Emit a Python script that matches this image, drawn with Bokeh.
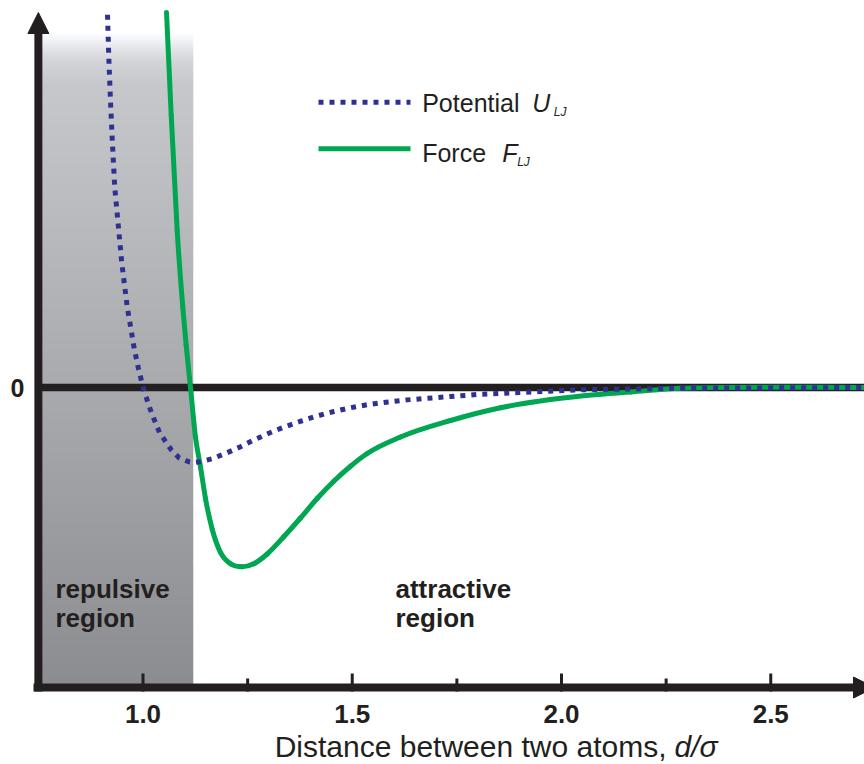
import numpy as np
from bokeh.plotting import figure
from bokeh.models import Range1d, Label, Arrow, NormalHead
from bokeh.core.properties import value
from bokeh.embed import file_html
from bokeh.resources import INLINE

# Lennard-Jones pair interaction: distance in units of sigma,
# potential and force in units of epsilon (and epsilon/sigma)
d_potential = [0.9152, 0.9183, 0.9223, 0.9271, 0.9326, 0.9398, 0.9493, 0.9622,
               0.9790, 0.9900, 1.0029, 1.0196, 1.0394, 1.0674, 1.0865, 1.1094,
               1.1220, 1.1374, 1.1654, 1.2012, 1.2330, 1.2648, 1.3006, 1.3364,
               1.3763, 1.4162, 1.4559, 1.4958, 1.5357, 1.5754, 1.6313, 1.7348,
               1.8065, 1.8860, 1.9658, 2.0454, 2.2840, 2.7240]
u_potential = [4.97, 4.40, 3.82, 3.24, 2.66, 2.23, 1.66, 1.08,
               0.52, 0.23, -0.05, -0.33, -0.60, -0.83, -0.94, -0.99,
               -1.00, -0.99, -0.95, -0.87, -0.79, -0.70, -0.61, -0.53,
               -0.45, -0.38, -0.32, -0.27, -0.23, -0.20, -0.165, -0.12,
               -0.09, -0.07, -0.05, -0.03, -0.01, 0.00]

d_force = [1.0562, 1.0674, 1.0817, 1.0951, 1.1032, 1.1135, 1.1254, 1.1374,
           1.1493, 1.1654, 1.1852, 1.2091, 1.2370, 1.2648, 1.2968, 1.3364,
           1.3763, 1.4162, 1.4559, 1.4958, 1.5357, 1.6153, 1.7348, 1.8543,
           1.9737, 2.0932, 2.1649, 2.2843, 2.3800, 2.7240]
f_force = [5.00, 3.63, 2.09, 1.07, 0.56, 0.00, -0.66, -1.06,
           -1.48, -1.89, -2.20, -2.35, -2.39, -2.35, -2.22, -1.99,
           -1.74, -1.48, -1.25, -1.05, -0.88, -0.66, -0.44, -0.27,
           -0.16, -0.09, -0.06, -0.01, 0.00, 0.00]

x_ticks = [1.0, 1.5, 2.0, 2.5]
x_tick_labels = ["1.0", "1.5", "2.0", "2.5"]
x_minor_ticks = [1.25, 1.75, 2.25]
axis_origin_d = 0.75        # where the distance axis starts
repulsive_limit = 1.12      # force changes sign here
y_top = 5.0                 # top of the drawn energy axis
y_bottom = -4.0             # level of the distance axis

# drawing scale (pixels per unit of d/sigma and per unit of epsilon)
W, H = 864, 764
PX_PER_D = 418.5
PX_PER_E = 75.0
ZERO_PX = 387.0
X_START = 1.0 - 142.5 / PX_PER_D
X_END = X_START + W / PX_PER_D
Y_END = ZERO_PX / PX_PER_E
Y_START = Y_END - H / PX_PER_E


def sx(px):
    return X_START + px / PX_PER_D


def sy(py):
    return Y_END - py / PX_PER_E


def smooth_segments(xs, ys):
    """Cubic Hermite pieces in x, as Bezier curves through every given point."""
    x = np.asarray(xs, dtype=float)
    y = np.asarray(ys, dtype=float)
    h = np.diff(x)
    delta = np.diff(y) / h
    slope = np.empty_like(x)
    slope[0], slope[-1] = delta[0], delta[-1]
    slope[1:-1] = (delta[:-1] * h[1:] + delta[1:] * h[:-1]) / (h[:-1] + h[1:])
    return dict(x0=x[:-1], y0=y[:-1], x1=x[1:], y1=y[1:],
                cx0=x[:-1] + h / 3, cy0=y[:-1] + slope[:-1] * h / 3,
                cx1=x[1:] - h / 3, cy1=y[1:] - slope[1:] * h / 3)


BLACK = "#231f20"
BLUE = "#2e3192"
GREEN = "#00a651"
FONT = "Liberation Sans"

p = figure(width=W, height=H, x_range=Range1d(X_START, X_END), y_range=Range1d(Y_START, Y_END),
           output_backend="svg", toolbar_location=None, title=None,
           x_axis_location=None, y_axis_location=None,
           min_border_left=0, min_border_right=0, min_border_top=0, min_border_bottom=0)
p.outline_line_color = None
p.grid.visible = False
p.background_fill_color = "white"
p.border_fill_color = "white"

# shaded repulsive region, fading to white at the top
shade_top = sy(35)
edges = np.linspace(shade_top, y_bottom, 241)
mid_px = (Y_END - (edges[:-1] + edges[1:]) / 2) * PX_PER_E
gray = np.interp(mid_px, [35, 48, 62, 85, 687], [253, 232, 213, 201, 142])
band_colors = ["#%02x%02x%02x" % (int(g - 2), int(g - 1), int(min(255, g + 2))) for g in gray]
p.quad(left=axis_origin_d, right=repulsive_limit, top=edges[:-1] + 0.012, bottom=edges[1:],
       fill_color=band_colors, line_color=None)

# zero line
p.segment(x0=[axis_origin_d], y0=[0], x1=[X_END], y1=[0], line_color=BLACK, line_width=7.5)

# curves
p.bezier(**smooth_segments(d_force, f_force), line_color=GREEN, line_width=5, line_cap="round")
p.line(d_potential, u_potential, line_color=BLUE, line_width=5, line_dash="5 6", line_cap="butt")

# axes with arrow heads
axis_base = sy(691)
p.add_layout(Arrow(end=NormalHead(size=21, fill_color=BLACK, line_color=BLACK),
                   x_start=axis_origin_d, y_start=axis_base, x_end=axis_origin_d, y_end=y_top,
                   line_color=BLACK, line_width=8))
p.add_layout(Arrow(end=NormalHead(size=21, fill_color=BLACK, line_color=BLACK),
                   x_start=sx(33), y_start=y_bottom, x_end=sx(874), y_end=y_bottom,
                   line_color=BLACK, line_width=8))

# ticks pointing up from the distance axis, and their labels
p.segment(x0=x_ticks, y0=[axis_base] * len(x_ticks), x1=x_ticks, y1=[sy(673)] * len(x_ticks),
          line_color=BLACK, line_width=3)
p.segment(x0=x_minor_ticks, y0=[axis_base] * len(x_minor_ticks), x1=x_minor_ticks,
          y1=[sy(678)] * len(x_minor_ticks), line_color=BLACK, line_width=3)
p.text(x=x_ticks, y=[sy(713)] * len(x_ticks), text=x_tick_labels, text_align="center",
       text_baseline="middle", text_font=value(FONT), text_font_size="26px",
       text_font_style="bold", text_color=BLACK)


def add_text(txt, px, py, size, style="normal", align="left"):
    p.add_layout(Label(x=sx(px), y=sy(py), text=txt, text_align=align, text_baseline="middle",
                       text_font=FONT, text_font_size=size, text_font_style=style,
                       text_color=BLACK))


# axis title
add_text("Distance between two atoms,", 666, 746, "30px", align="right")
add_text("d/σ", 674, 746, "30px", style="italic")

# zero label on the energy axis
add_text("0", 17, 387, "25px", style="bold", align="center")

# region labels
for txt, px, py in [("repulsive", 55, 588), ("region", 55, 617.5),
                    ("attractive", 395, 588), ("region", 395, 617.5)]:
    add_text(txt, px, py, "26px", style="bold")

# legend
p.segment(x0=[sx(318)], y0=[sy(101.7)], x1=[sx(410)], y1=[sy(101.7)],
          line_color=BLUE, line_width=5, line_dash="5 6", line_cap="butt")
p.segment(x0=[sx(318)], y0=[sy(148.3)], x1=[sx(410)], y1=[sy(148.3)],
          line_color=GREEN, line_width=5)
add_text("Potential", 421.7, 102, "25px")
add_text("U", 531.7, 102, "25px", style="italic")
add_text("LJ", 553.3, 111.5, "12px", style="italic")
add_text("Force", 421.7, 152.7, "25px")
add_text("F", 501.7, 152.7, "25px", style="italic")
add_text("LJ", 516.7, 161, "12px", style="italic")

open("out.html", "w").write(file_html(p, INLINE))
